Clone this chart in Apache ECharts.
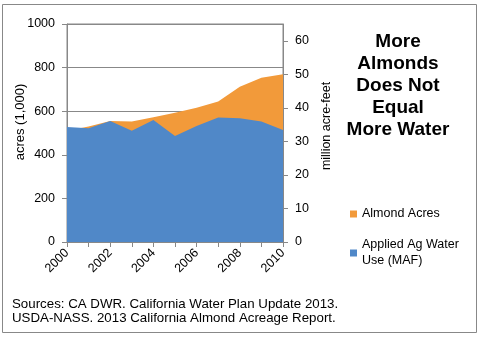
<!DOCTYPE html>
<html>
<head>
<meta charset="utf-8">
<script src="https://cdn.jsdelivr.net/npm/echarts@6/dist/echarts.min.js"></script>
<style>
html,body{margin:0;padding:0;background:#fff;}
#c{width:483px;height:337px;}
</style>
</head>
<body>
<div id="c"></div>
<script>
var years = ['2000','2001','2002','2003','2004','2005','2006','2007','2008','2009','2010'];
var almondAcres = [510, 530, 555, 553, 572, 593, 616, 644, 712, 754, 769];
var waterUseMAF = [34.3, 33.9, 36.1, 33.2, 36.4, 31.6, 34.6, 37.1, 36.9, 35.9, 33.4];
var leftTicks = [0, 200, 400, 600, 800, 1000];
var rightTicks = [0, 10, 20, 30, 40, 50, 60];
var titleLines = ['More', 'Almonds', 'Does Not', 'Equal', 'More Water'];
var sourceLines = ['Sources: CA DWR. California Water Plan Update 2013.', 'USDA-NASS. 2013 California Almond Acreage Report.'];

var FONT = 'Liberation Sans, Arial, sans-serif';
var BLUE = '#5088C8';
var ORANGE = '#F29A3A';
var GRAY = '#888888';

var chart = echarts.init(document.getElementById('c'), null, {renderer: 'canvas'});
chart.setOption({
  animation: false,
  backgroundColor: '#fff',
  textStyle: {fontFamily: FONT},
  grid: {left: 67, right: 200, top: 24, bottom: 95, show: true, borderColor: GRAY, borderWidth: 1},
  legend: {
    orient: 'vertical', left: 345, top: 201, itemWidth: 7, itemHeight: 7, itemGap: 15,
    icon: 'rect',
    data: ['Almond Acres', 'Applied Ag Water Use (MAF)'],
    formatter: function (n) { return n === 'Applied Ag Water Use (MAF)' ? 'Applied Ag Water\nUse (MAF)' : n; },
    textStyle: {fontFamily: FONT, fontSize: 12.5, color: '#000', lineHeight: 16}
  },
  xAxis: {
    type: 'category', data: years, boundaryGap: false,
    axisLine: {lineStyle: {color: GRAY}},
    axisTick: {interval: 0, length: 5, lineStyle: {color: GRAY}},
    axisLabel: {interval: 1, rotate: 45, fontSize: 12.5, color: '#000', fontFamily: FONT, margin: 9}
  },
  yAxis: [{
    type: 'value', min: 0, max: 1000, interval: 200, position: 'left',
    axisLine: {show: true, lineStyle: {color: GRAY}},
    axisTick: {show: true, length: 5, inside: false, lineStyle: {color: GRAY}},
    axisLabel: {fontSize: 12.5, color: '#000', fontFamily: FONT, margin: 12, customValues: leftTicks,
      formatter: function (v) { return String(v); }},
    splitLine: {lineStyle: {color: GRAY}}
  }, {
    type: 'value', min: 0, max: 65, position: 'right',
    axisLine: {show: true, lineStyle: {color: GRAY}},
    axisTick: {show: true, length: 5, customValues: rightTicks, lineStyle: {color: GRAY}},
    axisLabel: {fontSize: 12.5, color: '#000', fontFamily: FONT, margin: 12, customValues: rightTicks},
    splitLine: {show: false}
  }],
  graphic: [
    {type: 'rect', shape: {x: 2.5, y: 4.5, width: 474, height: 328}, style: {fill: null, stroke: GRAY, lineWidth: 1}, silent: true, z: -1},
    {type: 'text', x: 20, y: 122, rotation: Math.PI / 2,
      style: {text: 'acres (1,000)', fontFamily: FONT, fontSize: 13, fill: '#000', align: 'center', verticalAlign: 'middle'}},
    {type: 'text', x: 327, y: 126, rotation: Math.PI / 2,
      style: {text: 'million acre-feet', fontFamily: FONT, fontSize: 12.5, fill: '#000', align: 'center', verticalAlign: 'middle'}},
    {type: 'text', x: 398, y: 31,
      style: {text: titleLines.join('\n'), fontFamily: FONT, fontSize: 19, fontWeight: 'bold', lineHeight: 22, fill: '#000', align: 'center', verticalAlign: 'top'}},
    {type: 'text', x: 12, y: 297,
      style: {text: sourceLines.join('\n'), fontFamily: FONT, fontSize: 13.3, lineHeight: 14.5, fill: '#000', align: 'left', verticalAlign: 'top'}}
  ],
  series: [{
    name: 'Almond Acres', type: 'line', yAxisIndex: 0, data: almondAcres,
    symbol: 'none', lineStyle: {width: 0}, itemStyle: {color: ORANGE},
    areaStyle: {color: ORANGE, opacity: 1}
  }, {
    name: 'Applied Ag Water Use (MAF)', type: 'line', yAxisIndex: 1, data: waterUseMAF,
    symbol: 'none', lineStyle: {width: 0}, itemStyle: {color: BLUE},
    areaStyle: {color: BLUE, opacity: 1}
  }]
});
</script>
</body>
</html>
